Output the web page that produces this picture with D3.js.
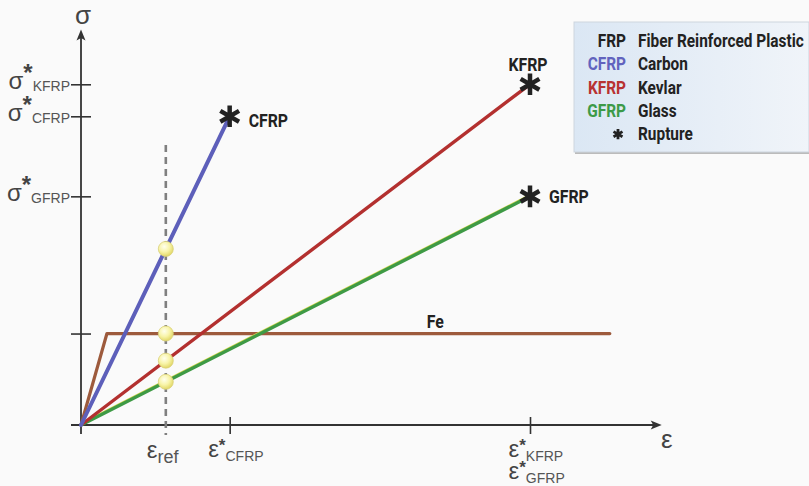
<!DOCTYPE html>
<html><head><meta charset="utf-8">
<script src="https://cdn.jsdelivr.net/npm/d3@7"></script>
<style>
html,body{margin:0;padding:0;background:#fafafa;}
svg{display:block;}
.ax{font-family:"Liberation Sans",Arial,sans-serif;fill:#444;}
.bold{font-family:Roboto,"Liberation Sans",sans-serif;font-weight:bold;}
</style></head>
<body>
<script>
// ---- data ----
const materials = ["CFRP", "KFRP", "GFRP"];
const ruptureStrain = [1.49, 4.5, 4.5];
const ruptureStress = [1350, 1490, 1000];
const materialColors = ["#5d5fba", "#b3302f", "#3e9a45"];
const feStrain = [0, 0.26, 5.3];
const feStress = [0, 400, 400];
const epsRef = 0.85;
const strainAxisMax = 5.82;
const stressAxisMax = 1730;
const yTickValues = [1490, 1350, 1000, 400];
const yTickSubs = ["KFRP", "CFRP", "GFRP", ""];
const xTickValues = [1.49, 4.5];
const xTickSubs = [["CFRP"], ["KFRP", "GFRP"]];
const legendAbbr = ["FRP", "CFRP", "KFRP", "GFRP", "*"];
const legendDesc = ["Fiber Reinforced Plastic", "Carbon", "Kevlar", "Glass", "Rupture"];
const legendColors = ["#222", "#6163be", "#b83232", "#3c9a48", "#222"];

const W = 809, H = 486;
const svg = d3.select("body").append("svg").attr("width", W).attr("height", H);
const defs = svg.append("defs");

const x = d3.scaleLinear().domain([0, 4.5]).range([81, 530]);
const y = d3.scaleLinear().domain([0, 1500]).range([425, 82]);

// gradients
const lg = defs.append("linearGradient").attr("id", "legbg").attr("x1", 0).attr("x2", 1).attr("y1", 0).attr("y2", 0);
lg.append("stop").attr("offset", "0%").attr("stop-color", "#dbe7f4");
lg.append("stop").attr("offset", "100%").attr("stop-color", "#f0f4f9");
const rg = defs.append("radialGradient").attr("id", "ball").attr("cx", "40%").attr("cy", "35%").attr("r", "65%");
rg.append("stop").attr("offset", "0%").attr("stop-color", "#ffffee");
rg.append("stop").attr("offset", "55%").attr("stop-color", "#f8f4a8");
rg.append("stop").attr("offset", "100%").attr("stop-color", "#e2d868");

const axisColor = "#333";
const SX = 0.88; // horizontal condensing of bold label font

const boldText = (parent, tx, ty, txt, size, color, anchor) =>
  parent.append("g").attr("transform", `translate(${tx},${ty}) scale(${SX},1)`)
    .append("text").attr("class", "bold").attr("font-size", size).attr("fill", color)
    .attr("text-anchor", anchor).text(txt);

// ---- axes ----
const yAxis = d3.axisLeft(y).tickValues(yTickValues).tickSize(0).tickFormat("");
const yG = svg.append("g").attr("transform", `translate(${x(0)},0)`).call(yAxis);
yG.select(".domain").remove();
yG.selectAll(".tick line").attr("x1", -10).attr("x2", 10).attr("stroke", axisColor).attr("stroke-width", 1.6);
yG.selectAll(".tick text").remove();
yG.selectAll(".tick").each(function(d, i) {
  if (!yTickSubs[i]) return;
  const t = d3.select(this).append("text").attr("class", "ax").attr("x", -11).attr("y", 4).attr("text-anchor", "end");
  t.append("tspan").attr("font-size", 24).text("σ");
  t.append("tspan").attr("font-size", 24).attr("font-weight", "bold").attr("dy", -8).text("*");
  t.append("tspan").attr("font-size", 14).attr("dy", 10).attr("fill", "#555").text(yTickSubs[i]);
});

const xAxis = d3.axisBottom(x).tickValues(xTickValues).tickSize(0).tickFormat("");
const xG = svg.append("g").attr("transform", `translate(0,${y(0)})`).call(xAxis);
xG.select(".domain").remove();
xG.selectAll(".tick line").attr("y1", -8).attr("y2", 9).attr("stroke", axisColor).attr("stroke-width", 1.6);
xG.selectAll(".tick").each(function(d, i) {
  const t = d3.select(this).append("text").attr("class", "ax").attr("x", -22).attr("y", 32).attr("text-anchor", "start");
  xTickSubs[i].forEach((s, j) => {
    const e = t.append("tspan").attr("font-size", 24).text("ε");
    if (j > 0) e.attr("x", -22).attr("dy", 18);
    t.append("tspan").attr("font-size", 17).attr("font-weight", "bold").attr("dy", -6).text("*");
    t.append("tspan").attr("font-size", 14).attr("dy", 10).attr("fill", "#555").text(s);
  });
});

// axis lines with arrows
svg.append("line").attr("x1", x(0)).attr("x2", x(0)).attr("y1", y(0) + 9).attr("y2", y(stressAxisMax) + 6)
  .attr("stroke", axisColor).attr("stroke-width", 1.8);
svg.append("path").attr("d", `M${x(0)},${y(stressAxisMax)} l-4.5,11 l4.5,-2.5 l4.5,2.5 z`).attr("fill", axisColor);
svg.append("line").attr("x1", x(0) - 10).attr("x2", x(strainAxisMax) - 6).attr("y1", y(0)).attr("y2", y(0))
  .attr("stroke", axisColor).attr("stroke-width", 1.8);
svg.append("path").attr("d", `M${x(strainAxisMax)},${y(0)} l-11,-4.5 l2.5,4.5 l-2.5,4.5 z`).attr("fill", axisColor);

svg.append("text").attr("class", "ax").attr("x", x(0) + 2).attr("y", 24).attr("text-anchor", "middle").attr("font-size", 26).text("σ");
svg.append("text").attr("class", "ax").attr("x", x(strainAxisMax) + 5).attr("y", 448).attr("text-anchor", "middle").attr("font-size", 26).text("ε");

// epsilon ref dashed line & label
svg.append("line").attr("x1", x(epsRef)).attr("x2", x(epsRef)).attr("y1", 145).attr("y2", y(0) + 10)
  .attr("stroke", "#7f7f7f").attr("stroke-width", 2.6).attr("stroke-dasharray", "7,5");
const er = svg.append("text").attr("class", "ax").attr("x", x(epsRef) - 19).attr("y", y(0) + 33);
er.append("tspan").attr("font-size", 24).text("ε");
er.append("tspan").attr("font-size", 18).attr("dy", 5).attr("fill", "#555").text("ref");

// ---- lines ----
const line = d3.line().x(d => x(d[0])).y(d => y(d[1]));
svg.append("path").datum(feStrain.map((e, i) => [e, feStress[i]])).attr("d", line)
  .attr("fill", "none").attr("stroke", "#9d5a3c").attr("stroke-width", 3.2).attr("stroke-linejoin", "round").attr("stroke-linecap", "round");

[2, 1, 0].forEach(i => {
  const pts = [[0, 0], [ruptureStrain[i], ruptureStress[i]]];
  if (i === 2) {
    svg.append("path").datum(pts).attr("d", line).attr("transform", "translate(0,-1.2)")
      .attr("stroke", "#d6d84a").attr("stroke-width", 2.5).attr("fill", "none");
  }
  svg.append("path").datum(pts).attr("d", line)
    .attr("fill", "none").attr("stroke", materialColors[i]).attr("stroke-width", i === 0 ? 4 : 3.4).attr("stroke-linecap", "round");
});

// rupture stars
const star = d3.symbol().type(d3.symbolAsterisk).size(330);
materials.forEach((m, i) => {
  svg.append("path").attr("d", star).attr("transform", `translate(${x(ruptureStrain[i])},${y(ruptureStress[i])})`)
    .attr("fill", "none").attr("stroke", "#222").attr("stroke-width", 4.5);
});

// line labels
boldText(svg, x(ruptureStrain[0]) + 19, y(ruptureStress[0]) + 11, "CFRP", 18, "#222", "start");
boldText(svg, x(ruptureStrain[1]) - 2, y(ruptureStress[1]) - 13, "KFRP", 18, "#222", "middle");
boldText(svg, x(ruptureStrain[2]) + 19, y(ruptureStress[2]) + 7, "GFRP", 18, "#222", "start");
boldText(svg, x(3.55), y(feStress[1]) - 6, "Fe", 18, "#222", "middle");

// reference points
const refPts = materials.map((m, i) => ruptureStress[i] * epsRef / ruptureStrain[i]).concat([feStress[1]]);
svg.selectAll("circle.ref").data(refPts).join("circle").attr("class", "ref")
  .attr("cx", x(epsRef)).attr("cy", d => y(d)).attr("r", 7.5)
  .attr("fill", "url(#ball)").attr("stroke", "#d9d07a").attr("stroke-width", 0.8);

// ---- legend ----
const lgG = svg.append("g");
lgG.append("rect").attr("x", 575).attr("y", 24).attr("width", 234).attr("height", 130).attr("fill", "#bbbbbb");
lgG.append("rect").attr("x", 574).attr("y", 22).attr("width", 235).attr("height", 130)
  .attr("fill", "url(#legbg)").attr("stroke", "#cdd5de").attr("stroke-width", 1);
legendAbbr.forEach((a, i) => {
  const yy = 47 + i * 23.3;
  if (a === "*") {
    lgG.append("path").attr("d", d3.symbol().type(d3.symbolAsterisk).size(75)).attr("transform", `translate(618,${yy - 6})`)
      .attr("fill", "none").attr("stroke", legendColors[i]).attr("stroke-width", 2.8);
  } else {
    boldText(lgG, 626, yy, a, 17.5, legendColors[i], "end");
  }
  boldText(lgG, 638, yy, legendDesc[i], 17.5, "#222", "start");
});
</script>
</body></html>
